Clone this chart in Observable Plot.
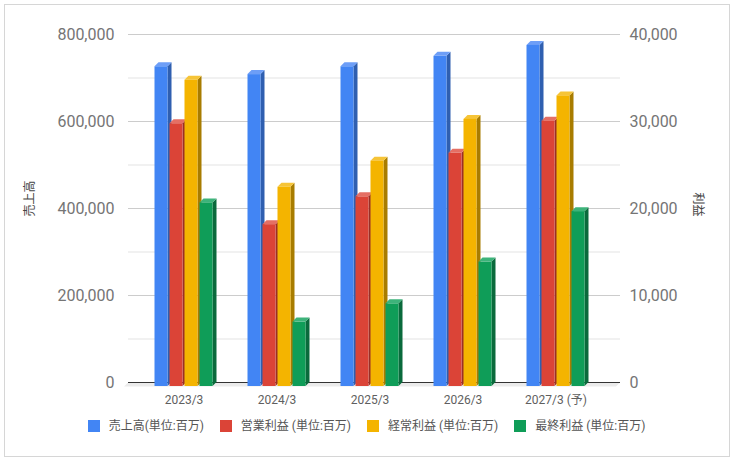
<!DOCTYPE html>
<html><head><meta charset="utf-8">
<script src="https://cdn.jsdelivr.net/npm/d3@7"></script>
<script src="https://cdn.jsdelivr.net/npm/@observablehq/plot@0.6"></script>
<style>
html,body{margin:0;padding:0;background:#fff;overflow:hidden}
#wrap{position:relative;width:733px;height:460px;font-family:Roboto,"Noto Sans CJK JP",sans-serif}
#chart svg{display:block;background:transparent}
#border{position:absolute;left:4px;top:4px;width:726px;height:453px;box-sizing:border-box;border:1px solid #d6d6d6;pointer-events:none}
.side rect{transform-box:fill-box;transform-origin:0 0;transform:skewY(-45deg)}
.topface rect{transform-box:fill-box;transform-origin:0 100%;transform:skewX(-45deg)}
.floor line{transform-box:fill-box;transform-origin:center;transform:skewX(-45deg)}
#legend{position:absolute;left:0;width:733px;top:419px;display:flex;justify-content:center;gap:16px;font-size:12px;color:#555;font-family:Roboto,"Noto Sans CJK JP",sans-serif}
#legend .item{display:flex;align-items:center;gap:9px;line-height:14px}
#legend .sw{width:12px;height:12px;display:inline-block}
</style>
</head><body>
<div id="wrap"><div id="chart"></div><div id="legend"></div><div id="border"></div></div>
<script>
const categories = ["2023/3", "2024/3", "2025/3", "2026/3", "2027/3 (予)"];
const sales = [735000, 717000, 735000, 759000, 784000];
const operatingProfit = [30200, 18600, 21800, 26800, 30500];
const ordinaryProfit = [35200, 22900, 25900, 30700, 33400];
const netProfit = [21100, 7400, 9500, 14300, 20100];
const seriesNames = ["売上高(単位:百万)", "営業利益 (単位:百万)", "経常利益 (単位:百万)", "最終利益 (単位:百万)"];
const leftTicks = [0, 200000, 400000, 600000, 800000];
const leftMinorTicks = [100000, 300000, 500000, 700000];
const rightTicks = [0, 10000, 20000, 30000, 40000];
const leftTitle = "売上高";
const rightTitle = "利益";
const salesMax = 800000, profitMax = 40000;
const ratio = salesMax / profitMax;

const palette = [
  {front: "#4285f4", side: "#2f5fb0", top: "#6d9ef7"},
  {front: "#db4437", side: "#9a2f26", top: "#e56f64"},
  {front: "#f4b400", side: "#a87c00", top: "#f6c437"},
  {front: "#0f9d58", side: "#0a6a3c", top: "#3db37a"}
];
const seriesValues = [sales, operatingProfit, ordinaryProfit, netProfit];
const seriesScale = [1, ratio, ratio, ratio];

const fmt = d3.format(",");
const marks = [
  Plot.ruleY(leftMinorTicks, {stroke: "#e3e3e3"}),
  Plot.ruleY(leftTicks.slice(1), {stroke: "#cccccc"}),
  Plot.ruleY([0], {stroke: "#ebebeb", strokeWidth: 4, dy: 2, dx: -2, className: "floor"}),
  Plot.ruleY([0], {stroke: "#333333"})
];
seriesValues.forEach((vals, i) => {
  const rows = categories.map((c, j) => ({cat: c, v: vals[j] * seriesScale[i]}));
  const p = palette[i];
  marks.push(
    Plot.barY(rows, {x: "cat", y: "v", fill: p.side, insetLeft: 30.5 + 15 * i, insetRight: 58.5 - 15 * i, dy: 4, className: "side"}),
    Plot.barY(rows, {x: "cat", y1: "v", y2: "v", fill: p.top, insetTop: -4, insetBottom: 0, insetLeft: 17.5 + 15 * i, insetRight: 62.5 - 15 * i, dy: 4, className: "topface"}),
    Plot.barY(rows, {x: "cat", y: "v", fill: p.front, insetLeft: 17.5 + 15 * i, insetRight: 62.5 - 15 * i, dy: 4})
  );
});
marks.push(
  Plot.axisY({anchor: "left", ticks: leftTicks, tickFormat: fmt, tickSize: 0, tickPadding: 14, fontSize: 16, color: "#757575", label: null}),
  Plot.axisY({anchor: "right", ticks: rightTicks.map(d => d * ratio), tickFormat: d => fmt(d / ratio), tickSize: 0, tickPadding: 9, fontSize: 16, color: "#757575", label: null}),
  Plot.axisX({tickSize: 0, tickPadding: 13, fontSize: 12, color: "#5f5f5f", label: null}),
  Plot.text([leftTitle], {text: d => d, frameAnchor: "left", rotate: -90, dx: -98, dy: 8, fontSize: 12, fill: "#444"}),
  Plot.text([rightTitle], {text: d => d, frameAnchor: "right", rotate: 90, dx: 77, dy: 8, fontSize: 12, fill: "#444"})
);

const chart = Plot.plot({
  width: 733,
  height: 410,
  marginLeft: 128,
  marginRight: 113,
  marginTop: 34,
  marginBottom: 28,
  style: {fontFamily: 'Roboto, "Noto Sans CJK JP", sans-serif', background: "transparent"},
  x: {domain: categories, padding: 0, insetLeft: 8.5, insetRight: 18.5, axis: null},
  y: {domain: [0, salesMax], axis: null},
  marks
});
document.getElementById("chart").appendChild(chart);

const legend = document.getElementById("legend");
seriesNames.forEach((n, i) => {
  const item = document.createElement("div");
  item.className = "item";
  const sw = document.createElement("span");
  sw.className = "sw";
  sw.style.background = palette[i].front;
  const t = document.createElement("span");
  t.textContent = n;
  item.appendChild(sw); item.appendChild(t);
  legend.appendChild(item);
});
</script>
</body></html>
